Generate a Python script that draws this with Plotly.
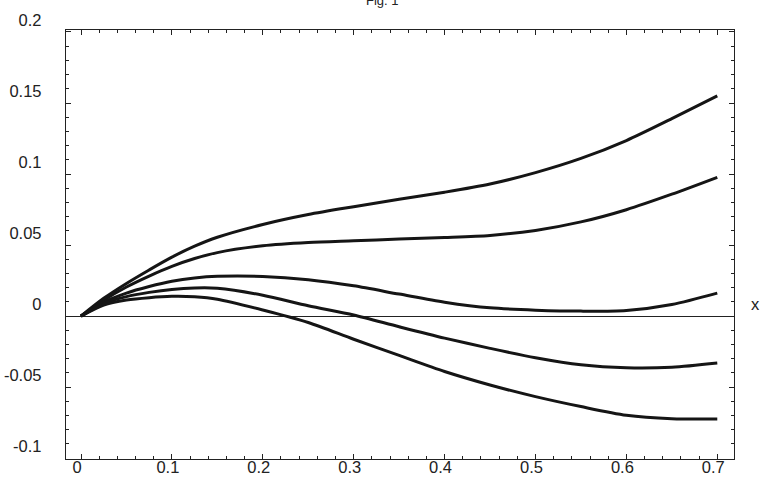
import plotly.graph_objects as go

x_vals = [0, 0.025, 0.05, 0.075, 0.1, 0.125, 0.15, 0.2, 0.25, 0.3, 0.35,
          0.4, 0.45, 0.5, 0.55, 0.6, 0.65, 0.7]

curve_a = [0, 0.0125, 0.023, 0.0325, 0.0415, 0.0492, 0.0555, 0.0645, 0.0715,
           0.077, 0.0822, 0.0872, 0.093, 0.101, 0.111, 0.1236, 0.139, 0.155]
curve_b = [0, 0.0112, 0.0205, 0.0282, 0.035, 0.0405, 0.0447, 0.0495, 0.0518,
           0.053, 0.0542, 0.0553, 0.0568, 0.0603, 0.0663, 0.0749, 0.0858, 0.0977]
curve_c = [0, 0.0098, 0.0162, 0.0208, 0.0245, 0.0268, 0.028, 0.0279, 0.0256,
           0.0213, 0.0155, 0.0098, 0.0058, 0.0042, 0.0035, 0.0040, 0.0082, 0.0162]
curve_d = [0, 0.0088, 0.0137, 0.0167, 0.0188, 0.0198, 0.0196, 0.0147, 0.0073,
           0.0008, -0.0075, -0.0155, -0.0227, -0.0293, -0.0343, -0.0364, -0.036, -0.033]
curve_e = [0, 0.0078, 0.0113, 0.0130, 0.0139, 0.0136, 0.0119, 0.0043, -0.0045,
           -0.0163, -0.0277, -0.039, -0.0485, -0.0567, -0.0637, -0.0698, -0.0722, -0.0724]

x_ticks = [0, 0.1, 0.2, 0.3, 0.4, 0.5, 0.6, 0.7]
x_tick_text = ["0", "0.1", "0.2", "0.3", "0.4", "0.5", "0.6", "0.7"]
y_ticks = [-0.1, -0.05, 0, 0.05, 0.1, 0.15, 0.2]
y_tick_text = ["-0.1", "-0.05", "0", "0.05", "0.1", "0.15", "0.2"]

fig = go.Figure()
for ys in [curve_a, curve_b, curve_c, curve_d, curve_e]:
    fig.add_trace(go.Scatter(x=x_vals, y=ys, mode="lines",
                             line=dict(color="#151515", width=3, shape="spline", smoothing=0.8),
                             showlegend=False, hoverinfo="skip"))

font = dict(family="Liberation Sans, Arial, sans-serif", size=16.5, color="#222222")

fig.update_layout(
    width=764, height=490,
    margin=dict(l=66, r=30, t=30, b=31, autoexpand=False),
    paper_bgcolor="white", plot_bgcolor="white",
    font=font,
    xaxis=dict(range=[-0.0165, 0.7184], tickvals=x_ticks, ticktext=x_tick_text,
               ticks="inside", ticklen=5, tickwidth=1, tickcolor="#222",
               minor=dict(dtick=0.02, tick0=0, ticks="inside", ticklen=3, tickcolor="#222", showgrid=False),
               showline=True, linecolor="#222", linewidth=1.3, mirror="ticks",
               showgrid=False, zeroline=False, ticklabelshift=-4, ticklabelstandoff=-7,
               automargin=False),
    yaxis=dict(range=[-0.1006, 0.2014], tickvals=y_ticks, ticktext=y_tick_text,
               ticks="inside", ticklen=5, tickwidth=1, tickcolor="#222",
               minor=dict(dtick=0.01, tick0=0, ticks="inside", ticklen=3, tickcolor="#222", showgrid=False),
               showline=True, linecolor="#222", linewidth=1.3, mirror="ticks",
               showgrid=False, zeroline=True, zerolinecolor="#222", zerolinewidth=1.2,
               ticklabelshift=-12, ticklabelstandoff=20, automargin=False),
)

fig.add_annotation(text="x", xref="paper", yref="y", x=1, y=0, xanchor="center",
                   yanchor="middle", xshift=21, yshift=12, showarrow=False, font=font)
fig.add_annotation(text="Fig. 1", xref="paper", yref="paper", x=(382 - 66) / 668, y=1,
                   xanchor="center", yanchor="bottom", yshift=20, showarrow=False,
                   font=dict(family="Liberation Sans, Arial, sans-serif", size=13, color="#222222"))

fig.write_html("out.html", config={"displayModeBar": False},
               post_script="document.body.style.margin='0';")
